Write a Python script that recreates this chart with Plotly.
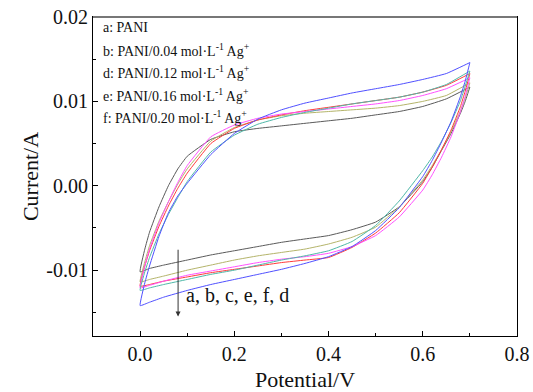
import plotly.graph_objects as go

# Forward (anodic) scan potentials and reverse (cathodic) scan potentials
v_fwd = [0, 0.01, 0.02, 0.04, 0.06, 0.08, 0.1, 0.15, 0.2, 0.25, 0.3, 0.35, 0.4, 0.45, 0.5, 0.55, 0.6, 0.65, 0.7]
v_rev = [0.7, 0.69, 0.68, 0.66, 0.64, 0.62, 0.6, 0.55, 0.5, 0.45, 0.4, 0.35, 0.3, 0.25, 0.2, 0.15, 0.1, 0.05, 0.02, 0]

# a: PANI
a_fwd = [-0.0102, -0.0075, -0.0055, -0.0025, 0.0000, 0.0020, 0.0035, 0.0055, 0.0064, 0.0068, 0.0071, 0.0074, 0.0077, 0.0080, 0.0084, 0.0088, 0.0094, 0.0103, 0.0117]
a_rev = [0.0117, 0.0100, 0.0086, 0.0062, 0.0042, 0.0022, 0.0005, -0.0025, -0.0043, -0.0052, -0.0059, -0.0063, -0.0067, -0.0072, -0.0077, -0.0082, -0.0088, -0.0094, -0.0098, -0.0102]
# b: 0.04
b_fwd = [-0.0114, -0.0090, -0.0071, -0.0042, -0.0019, 0.0002, 0.0020, 0.0053, 0.0069, 0.0078, 0.0083, 0.0086, 0.0088, 0.0090, 0.0092, 0.0095, 0.0100, 0.0107, 0.0122]
b_rev = [0.0122, 0.0104, 0.0089, 0.0064, 0.0043, 0.0024, 0.0007, -0.0025, -0.0049, -0.0061, -0.0069, -0.0075, -0.0079, -0.0083, -0.0088, -0.0094, -0.0100, -0.0107, -0.0111, -0.0114]
# c
c_fwd = [-0.0119, -0.0095, -0.0077, -0.0048, -0.0024, -0.0003, 0.0015, 0.0050, 0.0068, 0.0078, 0.0084, 0.0089, 0.0093, 0.0097, 0.0101, 0.0105, 0.0111, 0.0119, 0.0133]
c_rev = [0.0133, 0.0112, 0.0094, 0.0066, 0.0043, 0.0022, 0.0003, -0.0032, -0.0056, -0.0073, -0.0085, -0.0088, -0.0091, -0.0095, -0.0099, -0.0103, -0.0108, -0.0113, -0.0117, -0.0119]
# e: 0.16
e_fwd = [-0.0121, -0.0095, -0.0075, -0.0044, -0.0019, 0.0004, 0.0024, 0.0058, 0.0072, 0.0080, 0.0085, 0.0088, 0.0091, 0.0094, 0.0097, 0.0101, 0.0107, 0.0115, 0.0128]
e_rev = [0.0128, 0.0106, 0.0088, 0.0058, 0.0034, 0.0013, -0.0005, -0.0037, -0.0059, -0.0072, -0.0080, -0.0084, -0.0087, -0.0091, -0.0096, -0.0101, -0.0106, -0.0113, -0.0118, -0.0121]
# f: 0.20
f_fwd = [-0.0124, -0.0102, -0.0085, -0.0057, -0.0034, -0.0014, 0.0005, 0.0040, 0.0060, 0.0073, 0.0081, 0.0087, 0.0092, 0.0097, 0.0101, 0.0105, 0.0111, 0.0120, 0.0136]
f_rev = [0.0136, 0.0118, 0.0101, 0.0075, 0.0053, 0.0034, 0.0018, -0.0018, -0.0047, -0.0066, -0.0077, -0.0083, -0.0088, -0.0094, -0.0100, -0.0105, -0.0111, -0.0117, -0.0121, -0.0124]
# d: 0.12
d_fwd = [-0.0142, -0.0115, -0.0095, -0.0060, -0.0032, -0.0012, 0.0003, 0.0037, 0.0062, 0.0079, 0.0090, 0.0098, 0.0104, 0.0110, 0.0115, 0.0120, 0.0126, 0.0133, 0.0146]
d_rev = [0.0146, 0.0124, 0.0106, 0.0076, 0.0052, 0.0030, 0.0011, -0.0026, -0.0053, -0.0072, -0.0084, -0.0092, -0.0099, -0.0105, -0.0111, -0.0117, -0.0124, -0.0132, -0.0138, -0.0142]

series = [
    ("a", a_fwd, a_rev, "#5a5a5a"),
    ("b", b_fwd, b_rev, "#b4b46a"),
    ("c", c_fwd, c_rev, "#ff3a3a"),
    ("e", e_fwd, e_rev, "#ff50ff"),
    ("f", f_fwd, f_rev, "#4fb8a8"),
    ("d", d_fwd, d_rev, "#5050ff"),
]

legend_lines = [
    "a: PANI",
    "b: PANI/0.04 mol·L<sup>-1</sup> Ag<sup>+</sup>",
    "d: PANI/0.12 mol·L<sup>-1</sup> Ag<sup>+</sup>",
    "e: PANI/0.16 mol·L<sup>-1</sup> Ag<sup>+</sup>",
    "f: PANI/0.20 mol·L<sup>-1</sup> Ag<sup>+</sup>",
]

x_ticks = [0.0, 0.2, 0.4, 0.6, 0.8]
x_labels = ["0.0", "0.2", "0.4", "0.6", "0.8"]
y_ticks = [-0.01, 0.0, 0.01, 0.02]
y_labels = ["-0.01", "0.00", "0.01", "0.02"]

SERIF = "Liberation Serif, Times New Roman, serif"

fig = go.Figure()
for name, fwd, rev, col in series:
    fig.add_trace(go.Scatter(
        x=v_fwd + v_rev, y=fwd + rev, mode="lines", name=name,
        line=dict(color=col, width=1, shape="spline", smoothing=0.35),
        showlegend=False,
    ))

annotations = []
leg_y_px = [28, 50, 72, 95, 117]
for txt, ypx in zip(legend_lines, leg_y_px):
    annotations.append(dict(
        text=txt, xref="paper", yref="paper",
        x=(101 - 93) / 424, y=(336 - ypx) / 319,
        xanchor="left", yanchor="middle", showarrow=False,
        font=dict(family=SERIF, size=14, color="#111"),
    ))

# arrow
annotations.append(dict(
    x=0.0806, y=-0.0155, ax=0.0806, ay=-0.0074,
    xref="x", yref="y", axref="x", ayref="y",
    showarrow=True, arrowhead=2, arrowsize=1, arrowwidth=1,
    arrowcolor="#333", text="",
))
annotations.append(dict(
    x=0.093, y=-0.0129, xref="x", yref="y", text="a, b, c, e, f, d",
    showarrow=False, xanchor="left", yanchor="middle",
    font=dict(family=SERIF, size=20, color="#111"),
))

fig.update_layout(
    width=533, height=392,
    margin=dict(l=93, r=16, t=17, b=56),
    paper_bgcolor="white", plot_bgcolor="white",
    annotations=annotations,
    font=dict(family=SERIF, color="#111"),
    shapes=[dict(type="line", xref="paper", yref="paper", x0=0, x1=1, y0=1, y1=1,
                 line=dict(color="#777", width=2))],
)
fig.update_xaxes(
    range=[-0.1, 0.8], tickvals=x_ticks, ticktext=x_labels,
    ticks="inside", ticklen=5, tickcolor="black", tickwidth=1,
    minor=dict(ticks="inside", ticklen=3, dtick=0.1, tick0=0, tickcolor="black"),
    showline=True, linecolor="black", linewidth=1, mirror=True,
    showgrid=False, zeroline=False, automargin=False,
    tickfont=dict(family=SERIF, size=20),
    title=dict(text="Potential/V", font=dict(family=SERIF, size=22), standoff=10),
)
fig.update_yaxes(
    range=[-0.0178, 0.02], tickvals=y_ticks, ticktext=y_labels,
    ticks="inside", ticklen=5, tickcolor="black", tickwidth=1,
    minor=dict(ticks="inside", ticklen=3, dtick=0.005, tick0=0, tickcolor="black"),
    showline=True, linecolor="black", linewidth=1, mirror=True,
    showgrid=False, zeroline=False, automargin=False,
    tickfont=dict(family=SERIF, size=20),
    title=dict(text="Current/A", font=dict(family=SERIF, size=22), standoff=1),
)

fig.write_html("out.html")
